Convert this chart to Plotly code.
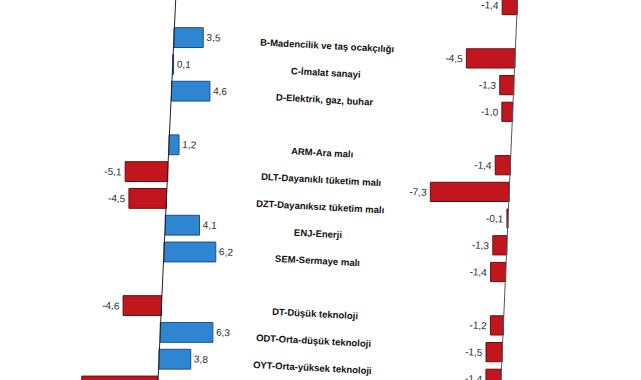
import plotly.graph_objects as go

# ---- data ----
groups = [
    ["Toplam sanayi"],
    ["B-Madencilik ve taş ocakçılığı", "C-İmalat sanayi", "D-Elektrik, gaz, buhar"],
    ["ARM-Ara malı", "DLT-Dayanıklı tüketim malı", "DZT-Dayanıksız tüketim malı",
     "ENJ-Enerji", "SEM-Sermaye malı"],
    ["DT-Düşük teknoloji", "ODT-Orta-düşük teknoloji", "OYT-Orta-yüksek teknoloji",
     "YT-Yüksek teknoloji"],
]
left_values = [None, 3.5, 0.1, 4.6, 1.2, -5.1, -4.5, 4.1, 6.2, -4.6, 6.3, 3.8, -9.1]
right_values = [-1.4, -4.5, -1.3, -1.0, -1.4, -7.3, -0.1, -1.3, -1.4, -1.2, -1.5, -1.4, None]

# ---- layout helpers ----
W, H = 641, 380
categories, rows = [], []
r = 0
for g in groups:
    for c in g:
        categories.append(c)
        rows.append(r)
        r += 1
    r += 1  # empty row between groups

ROW_PX_L, TOP_PX_L = 26.8, -16.0
ROW_PX_R, TOP_PX_R = 26.7, 5.0
SCALE_L, ZERO_L = 8.35, 174.0
SCALE_R, ZERO_R = 10.8, 517.3
LEAN_L, LEAN_R = 1.25, 1.16   # px shift per row (picture is slightly rotated)
ANG = 3

BLUE, BLUE_EDGE = "#2e86d2", "#1b4f82"
RED, RED_EDGE = "#c1161d", "#6a0b0f"
FONT = "Arial, Liberation Sans"

def fmt(v):
    return "" if v is None else f"{v:.1f}".replace(".", ",")

lx, ly, lb, lc, le, lt = [], [], [], [], [], []
for i, v in zip(rows, left_values):
    if v is None:
        continue
    lx.append(v); ly.append(i)
    lb.append(-LEAN_L * (i - 2) / SCALE_L)
    lc.append(BLUE if v >= 0 else RED)
    le.append(BLUE_EDGE if v >= 0 else RED_EDGE)
    lt.append(fmt(v))

rx, ry, rb, rc, re_, rt = [], [], [], [], [], []
for i, v in zip(rows, right_values):
    if v is None:
        continue
    rx.append(v); ry.append(i)
    rb.append(-LEAN_R * i / SCALE_R)
    rc.append(BLUE if v >= 0 else RED)
    re_.append(BLUE_EDGE if v >= 0 else RED_EDGE)
    rt.append(fmt(v))

fig = go.Figure()
fig.add_trace(go.Bar(
    x=lx, y=ly, base=lb, orientation="h", width=0.74,
    marker=dict(color=lc, line=dict(color=le, width=1)),
    text=lt, textposition="outside", textangle=ANG, cliponaxis=False,
    textfont=dict(family=FONT, size=10, color="#2a2a2a"),
    xaxis="x", yaxis="y", showlegend=False,
))
fig.add_trace(go.Bar(
    x=rx, y=ry, base=rb, orientation="h", width=0.72,
    marker=dict(color=rc, line=dict(color=re_, width=1)),
    text=rt, textposition="outside", textangle=ANG, cliponaxis=False,
    textfont=dict(family=FONT, size=10, color="#2a2a2a"),
    xaxis="x2", yaxis="y2", showlegend=False,
))

annotations = []
for i, c in zip(rows, categories):
    annotations.append(dict(
        x=(329.5 - 1.25 * i) / W, xref="paper",
        y=i + 0.3, yref="y",
        text="<b>" + c + "</b>", showarrow=False, textangle=ANG,
        xanchor="center", yanchor="middle",
        font=dict(family=FONT, size=9.5, color="#111111"),
    ))

shapes = [
    dict(type="line", xref="paper", yref="paper",
         x0=175.7 / W, y0=1, x1=158.0 / W, y1=0,
         line=dict(color="#222222", width=1)),
    dict(type="line", xref="paper", yref="paper",
         x0=517.5 / W, y0=1, x1=501.0 / W, y1=0,
         line=dict(color="#555555", width=1)),
]

fig.update_layout(
    width=W, height=H, margin=dict(l=0, r=0, t=0, b=0),
    paper_bgcolor="white", plot_bgcolor="white",
    barmode="overlay",
    xaxis=dict(domain=[0, 1], range=[-ZERO_L / SCALE_L, (W - ZERO_L) / SCALE_L],
               visible=False, fixedrange=True),
    xaxis2=dict(overlaying="x", range=[-ZERO_R / SCALE_R, (W - ZERO_R) / SCALE_R],
                visible=False, fixedrange=True),
    yaxis=dict(range=[(H - TOP_PX_L) / ROW_PX_L, -TOP_PX_L / ROW_PX_L],
               visible=False, fixedrange=True),
    yaxis2=dict(overlaying="y", range=[(H - TOP_PX_R) / ROW_PX_R, -TOP_PX_R / ROW_PX_R],
                visible=False, fixedrange=True),
    annotations=annotations, shapes=shapes,
)

fig.write_html("out.html", config={"displayModeBar": False},
               post_script="document.body.style.margin='0px';")
